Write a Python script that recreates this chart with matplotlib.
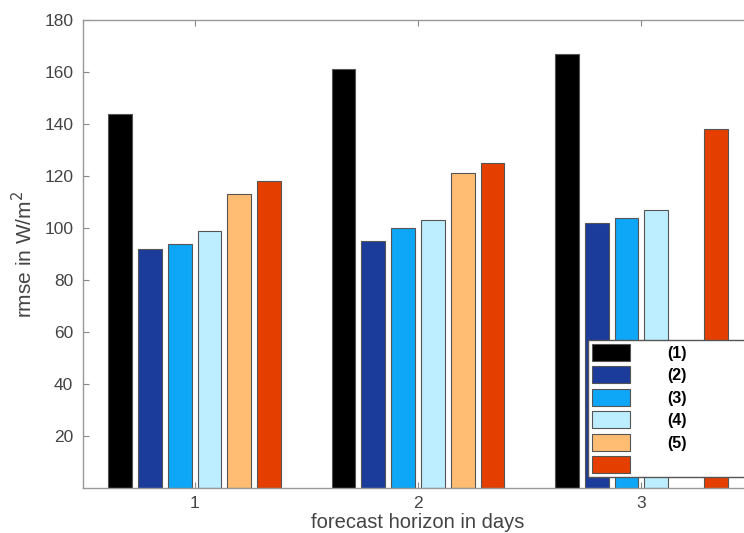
import numpy as np
import matplotlib
matplotlib.use("Agg")
import matplotlib.pyplot as plt

days = [1, 2, 3]
series_labels = ["(1)", "(2)", "(3)", "(4)", "(5)", " "]
s1 = [144, 161, 167]
s2 = [92, 95, 102]
s3 = [94, 100, 104]
s4 = [99, 103, 107]
s5 = [113, 121, np.nan]
s6 = [118, 125, 138]
colors = ["#000000", "#1c3c9c", "#0ea6f6", "#bdeeff", "#ffbd73", "#e43f00"]

plt.rcParams['font.family'] = ['Liberation Sans', 'DejaVu Sans']

fig = plt.figure(figsize=(7.44, 5.33), dpi=100)
ax = fig.add_axes([83/744, 45/533, 670/744, 468/533])

series = [s1, s2, s3, s4, s5, s6]
n = len(series)
pitch = 0.8 / n
width = pitch * 0.8
x = np.array(days, dtype=float)
for i, (vals, c, lab) in enumerate(zip(series, colors, series_labels)):
    ax.bar(x + (i - (n - 1) / 2) * pitch, vals, width=width, color=c,
           edgecolor="#555555", linewidth=0.8, label=lab, zorder=2)

ax.set_xlim(0.5, 3.5)
ax.set_ylim(0, 180)
ax.set_yticks(np.arange(20, 181, 20))
ax.set_xticks(days)
ax.tick_params(direction="in", length=4, width=0.8, colors="#888888",
               labelcolor="#444444", labelsize=12.5, top=True, right=True)
ax.tick_params(axis="y", pad=7)
ax.tick_params(axis="x", pad=6)
for sp in ax.spines.values():
    sp.set_color("#999999")
    sp.set_linewidth(1.0)

ax.set_ylabel("rmse in W/m$^2$", fontsize=15, color="#444444", labelpad=6)
ax.set_xlabel("forecast horizon in days", fontsize=14.5, color="#444444", labelpad=1)

leg = ax.legend(loc="upper left", bbox_to_anchor=(588/744, 1 - 478/533, 220/744, 138/533),
                bbox_transform=fig.transFigure, mode="expand", borderaxespad=0,
                fontsize=11.5, handlelength=2.4, handleheight=1.25, labelspacing=0.35,
                handletextpad=2.3, borderpad=0.25, fancybox=False, framealpha=1,
                edgecolor="#555555")
leg.get_frame().set_linewidth(1.0)
for t in leg.get_texts():
    t.set_fontweight("bold")

fig.savefig("out.png", dpi=100)
